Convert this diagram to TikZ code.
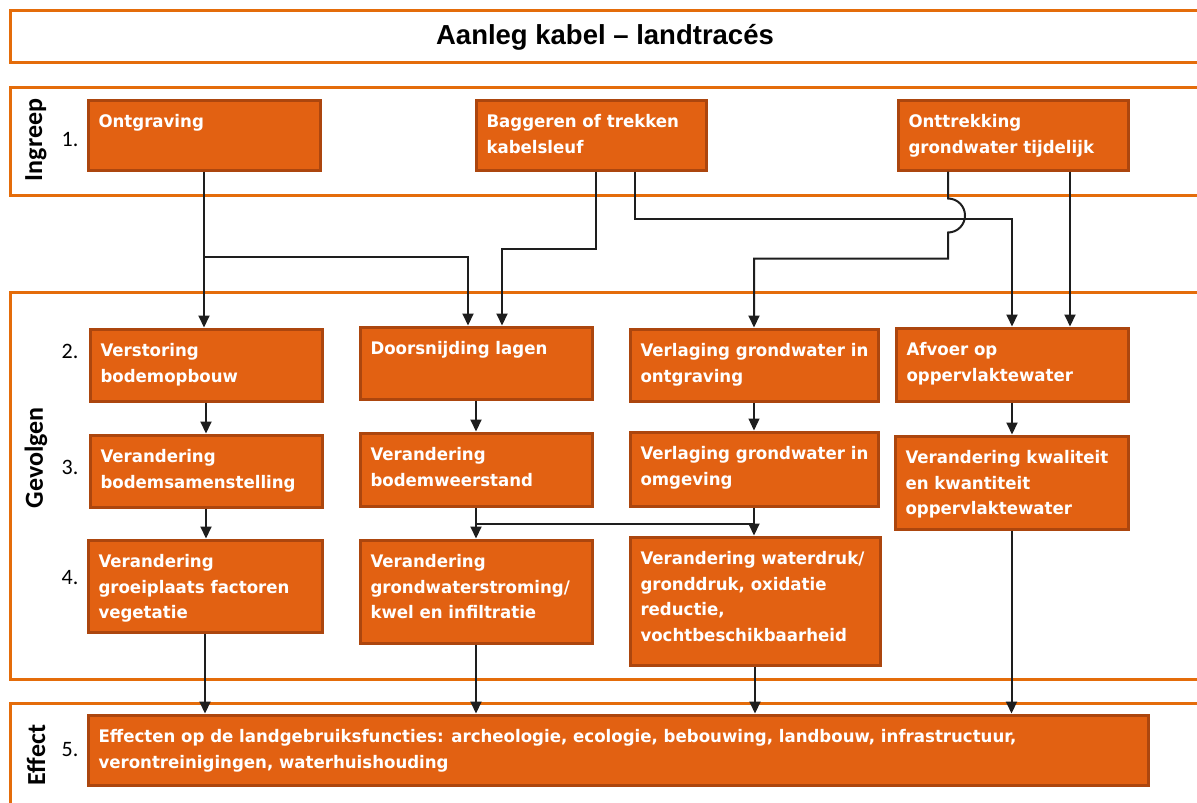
\documentclass[tikz,border=0pt]{standalone}
\usepackage{fontspec}
\usetikzlibrary{arrows.meta,calc}
\newfontfamily\boxfont[FakeStretch=0.96]{DejaVu Sans}
\newfontfamily\titlefont{Liberation Sans}
\newfontfamily\lblfont{Carlito}
\definecolor{boxfill}{RGB}{226,97,18}
\definecolor{boxedge}{RGB}{172,70,14}
\definecolor{frameor}{RGB}{228,108,10}
\definecolor{lineblk}{RGB}{30,30,30}
\tikzset{
  obox/.style={draw=boxedge, fill=boxfill, line width=3pt, inner sep=0pt, text=white,
    font=\boxfont\bfseries\fontsize{17.3}{25.5}\selectfont},
  frame/.style={draw=frameor, line width=3pt},
  conn/.style={draw=lineblk, line width=2pt},
  arr/.style={conn, -{Triangle[length=12pt,width=11pt]}},
  sidelbl/.style={font=\lblfont\bfseries\fontsize{26}{28}\selectfont, rotate=90},
  numlbl/.style={font=\lblfont\fontsize{22}{24}\selectfont},
}
\newcommand\obox[6]{%
  \node[obox, minimum width={#4-#2}, minimum height={#5-#3}] (#1) at ({(#2+#4)/2},{(#3+#5)/2})
  {\parbox[c][\dimexpr #5pt-#3pt-20pt\relax][t]{\dimexpr #4pt-#2pt-21pt\relax}{\raggedright\strut #6}};}
\begin{document}
\begin{tikzpicture}[x=1pt,y=-1pt]
\clip (0,0) rectangle (1197,803);
\fill[white] (0,0) rectangle (1197,803);
% frames
\draw[frame] (10,10) rectangle (1230,62);
\draw[frame] (10,87) rectangle (1230,195);
\draw[frame] (10,292) rectangle (1230,679);
\draw[frame] (10,703) rectangle (1230,830);
\node[font=\titlefont\bfseries\fontsize{27.5}{30}\selectfont] (title) at (605,37) {Aanleg kabel – landtracés};
\node[sidelbl] (lIngreep) at (36,140) {Ingreep};
\node[sidelbl] (lGevolgen) at (36,458) {Gevolgen};
\node[sidelbl] (lEffect) at (36,755) {Effect};
\node[numlbl] (n1) at (70,140) {1.};
\node[numlbl] (n2) at (70,351) {2.};
\node[numlbl] (n3) at (70,467) {3.};
\node[numlbl] (n4) at (70,578) {4.};
\node[numlbl] (n5) at (70,750) {5.};
% row 1
\obox{ontg}{88}{100}{320}{170}{Ontgraving}
\obox{bagg}{476}{100}{706}{170}{Baggeren of trekken\\kabelsleuf}
\obox{ontt}{898}{100}{1128}{170}{Onttrekking\\\mbox{grondwater tijdelijk}}
% row 2
\obox{verst}{90}{329}{322}{401}{Verstoring\\bodemopbouw}
\obox{door}{360}{327}{592}{399}{Doorsnijding lagen}
\obox{verlo}{630}{329}{878}{401}{\mbox{Verlaging grondwater in}\\ontgraving}
\obox{afv}{896}{328}{1128}{401}{Afvoer op\\oppervlaktewater}
% row 3
\obox{bsam}{90}{435}{322}{507}{Verandering\\bodemsamenstelling}
\obox{bweer}{360}{433}{592}{506}{Verandering\\bodemweerstand}
\obox{verlom}{630}{432}{878}{506}{\mbox{Verlaging grondwater in}\\omgeving}
\obox{kwal}{895}{436}{1128}{529}{\mbox{Verandering kwaliteit}\\en kwantiteit\\oppervlaktewater}
% row 4
\obox{groei}{88}{540}{322}{632}{Verandering\\\mbox{groeiplaats factoren}\\vegetatie}
\obox{gstrom}{360}{540}{592}{643}{Verandering\\grondwaterstroming/\\kwel en infiltratie}
\obox{wdruk}{630}{537}{880}{665}{\mbox{Verandering waterdruk/}\\\mbox{gronddruk, oxidatie}\\reductie,\\vochtbeschikbaarheid}
% row 5
\obox{eff}{88}{715}{1148}{785}{Effecten op de landgebruiksfuncties: archeologie, ecologie, bebouwing, landbouw, infrastructuur,\\verontreinigingen, waterhuishouding}
% connectors from row 1
\draw[arr] (ontg.south) -- (ontg.south |- verst.north);
\coordinate (j1) at ($(ontg.south)+(0,85)$);
\draw[arr] (j1) -| ([xshift=-8pt]door.north);
\draw[arr] ([xshift=5pt]bagg.south) -- ++(0,77) -| ([xshift=26pt]door.north);
\draw[arr] ([xshift=44pt]bagg.south) -- ++(0,47) -| (afv.north);
\draw[arr] ([xshift=-65pt]ontt.south) -- ++(0,27)
   arc[start angle=-90, end angle=90, radius=17] -- ++(0,26) -| (verlo.north);
\draw[arr] ([xshift=57pt]ontt.south) -- ([xshift=57pt]ontt.south |- afv.north);
% gevolgen column 1
\draw[arr] (verst.south) -- (bsam.north);
\draw[arr] (bsam.south) -- (bsam.south |- groei.north);
\draw[arr] (groei.south) -- (groei.south |- eff.north);
% column 2
\draw[arr] (door.south) -- (bweer.north);
\draw[arr] (bweer.south) -- (gstrom.north);
\draw[arr] (gstrom.south) -- (gstrom.south |- eff.north);
% column 3
\draw[arr, line width=1.2pt] (verlo.south) -- (verlo.south |- verlom.north);
\draw[arr] (verlom.south) -- (verlom.south |- wdruk.north);
\draw[conn] ([yshift=-16pt]bweer.south) -- ([yshift=-16pt]bweer.south -| verlom.south);
\draw[arr] (wdruk.south) -- (wdruk.south |- eff.north);
% column 4
\draw[arr] (afv.south) -- (afv.south |- kwal.north);
\draw[arr] (kwal.south) -- (kwal.south |- eff.north);
\end{tikzpicture}
\end{document}
